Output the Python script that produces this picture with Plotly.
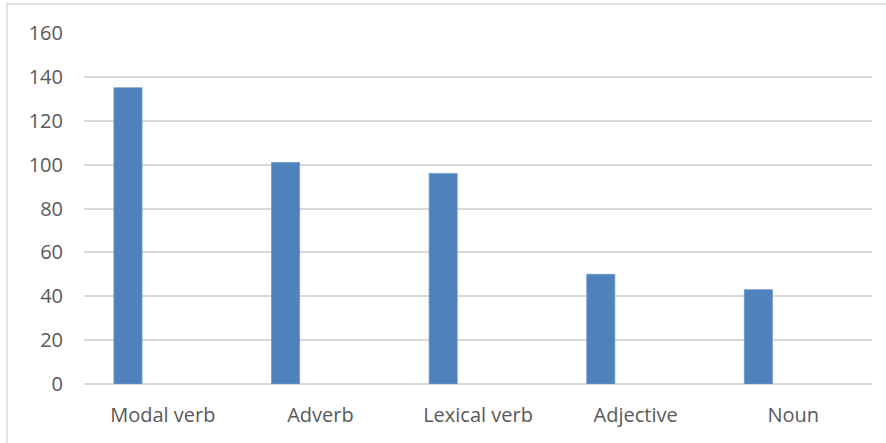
import plotly.graph_objects as go

categories = ["Modal verb", "Adverb", "Lexical verb", "Adjective", "Noun"]
values = [135, 101, 96, 50, 43]
y_ticks = [0, 20, 40, 60, 80, 100, 120, 140, 160]

W, H = 886, 443
L, R, T, B = 84, 14, 33, 59
pw, ph = W - L - R, H - T - B

fig = go.Figure()
fig.add_trace(go.Bar(
    x=categories, y=values,
    marker=dict(color="#4F81BD", line=dict(color="#6A95CC", width=0.8)),
    width=0.178, offset=-0.31,
))

fig.update_layout(
    width=W, height=H,
    margin=dict(l=L, r=R, t=T, b=B),
    paper_bgcolor="white", plot_bgcolor="white",
    showlegend=False,
    font=dict(family="Open Sans", size=20, color="#595959"),
    xaxis=dict(showgrid=False, showline=False, ticks="", ticklabelstandoff=17,
               tickfont=dict(size=20, color="#595959")),
    yaxis=dict(range=[0, 160], tickvals=y_ticks, showgrid=True, gridcolor="#D9D9D9",
               gridwidth=1.5, zeroline=True, zerolinecolor="#D9D9D9", zerolinewidth=1.5,
               showline=False, ticks="", ticklabelstandoff=20,
               tickfont=dict(size=20, color="#595959")),
    shapes=[dict(type="rect", xref="paper", yref="paper",
                 x0=(7 - L) / pw, x1=(W + 20 - L) / pw,
                 y0=-(B + 20) / ph, y1=1 + (T - 4) / ph,
                 line=dict(color="#D9D9D9", width=1.5), layer="below")],
)

fig.write_html("out.html")
